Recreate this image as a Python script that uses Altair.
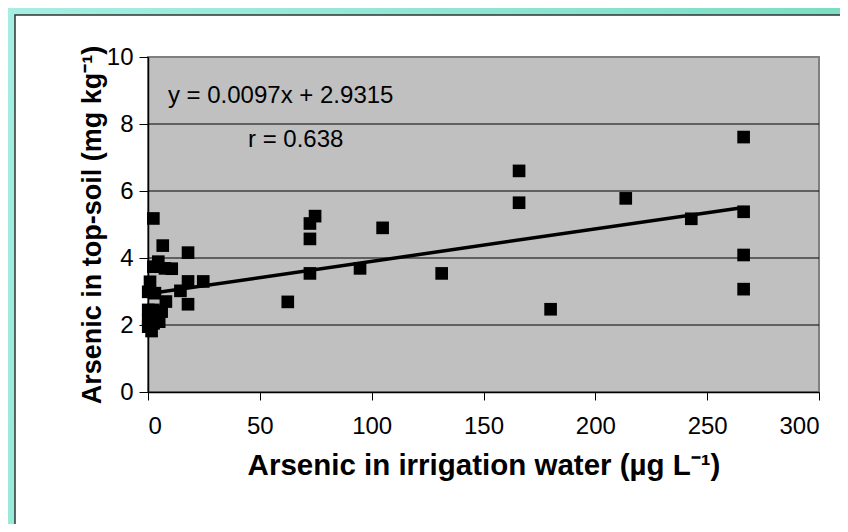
import altair as alt
import pandas as pd

# Arsenic in irrigation water (ug/L) and top-soil (mg/kg)
water = [266.3, 266.3, 266.3, 266.3, 242.9, 213.6, 180.0, 165.9, 165.9, 131.3,
         104.9, 94.8, 74.7, 72.4, 72.4, 72.4, 62.5,
         2.4, 6.6, 17.9, 4.6, 2.4, 7.6, 10.6, 17.9, 24.7, 0.9, 14.5, 0.1, 3.1,
         8.0, 17.9, 0.1, 2.4, 6.1, 0.1, 3.9, 0.1, 1.6, 2.5, 5.0]
soil = [7.61, 5.38, 4.09, 3.07, 5.17, 5.78, 2.47, 6.60, 5.65, 3.54,
        4.90, 3.69, 5.25, 5.03, 4.57, 3.54, 2.69,
        5.18, 4.37, 4.16, 3.89, 3.74, 3.69, 3.68, 3.30, 3.30, 3.29, 3.02, 2.99, 2.95,
        2.70, 2.62, 2.45, 2.45, 2.40, 2.15, 2.20, 1.95, 1.82, 2.05, 2.10]

trend_x = [0.0, 266.3]
trend_y = [2.93, 5.51]

x_ticks = [0, 50, 100, 150, 200, 250, 300]
y_ticks = [0, 2, 4, 6, 8, 10]
grid_y = [2, 4, 6, 8]

note_x = [8.9, 44.7]
note_y = [8.84, 7.52]
note_text = ["y = 0.0097x + 2.9315", "r = 0.638"]

W, H = 671, 335
FONT = "Liberation Sans"

pts = pd.DataFrame({"water": water, "soil": soil})
trend = pd.DataFrame({"water": trend_x, "soil": trend_y})
grid = pd.DataFrame({"soil": grid_y})
notes = pd.DataFrame({"water": note_x, "soil": note_y, "t": note_text})
one = pd.DataFrame({"a": [0]})

xscale = alt.Scale(domain=[0, 300], nice=False, zero=False)
yscale = alt.Scale(domain=[0, 10], nice=False)

xaxis = alt.Axis(
    values=x_ticks, title="Arsenic in irrigation water (µg L⁻¹)",
    grid=False, zindex=1, domainColor="black", domainWidth=1.5,
    tickColor="black", tickSize=8, tickWidth=1,
    labelFont=FONT, labelFontSize=24, labelColor="black", labelPadding=14,
    titleFont=FONT, titleFontSize=29.5, titleFontWeight="bold", titleColor="black",
    titleY=73, titleBaseline="middle")
yaxis = alt.Axis(
    values=y_ticks, title="Arsenic in top-soil (mg kg⁻¹)",
    grid=False, zindex=1, domainColor="black", domainWidth=1.5,
    tickColor="black", tickSize=9, tickWidth=1,
    labelFont=FONT, labelFontSize=24, labelColor="black", labelPadding=6,
    titleFont=FONT, titleFontSize=27, titleFontWeight="bold", titleColor="black",
    titleX=-56, titleY=H / 2, titleBaseline="middle", titleAngle=270)

X = alt.X("water:Q", scale=xscale, axis=xaxis)
Y = alt.Y("soil:Q", scale=yscale, axis=yaxis)

teal = alt.Chart(one).mark_rect(
    color=alt.Gradient(
        gradient="linear",
        stops=[alt.GradientStop(color="#a6eee2", offset=0),
               alt.GradientStop(color="#78dcc0", offset=1)],
        x1=0, x2=1, y1=0, y2=0.3)
).encode(x=alt.value(-140), x2=alt.value(700), y=alt.value(-49), y2=alt.value(480))

panel = alt.Chart(one).mark_rect(
    fill="white", stroke="#333333", strokeWidth=1.5
).encode(x=alt.value(-133), x2=alt.value(720), y=alt.value(-42), y2=alt.value(500))

plotbg = alt.Chart(one).mark_rect(
    fill="#c0c0c0", stroke="#808080", strokeWidth=2
).encode(x=alt.value(0), x2=alt.value(W), y=alt.value(0), y2=alt.value(H))

points = alt.Chart(pts).mark_point(
    shape="square", filled=True, color="black", size=160, opacity=1
).encode(x=X, y=Y)

gridlines = alt.Chart(grid).mark_rule(color="black", strokeWidth=1).encode(y=Y)

line = alt.Chart(trend).mark_line(color="black", strokeWidth=3.5).encode(x=X, y=Y)

text = alt.Chart(notes).mark_text(
    align="left", baseline="middle", fontSize=24, font=FONT, color="black"
).encode(x=X, y=Y, text="t:N")

chart = alt.layer(teal, panel, plotbg, gridlines, line, points, text).properties(
    width=W, height=H,
    autosize=alt.AutoSizeParams(type="none"),
    padding={"left": 140, "top": 49, "right": 21, "bottom": 132},
).configure(background="#90e4d0").configure_view(stroke=None)

chart.save("out.html", embed_options={"renderer": "svg", "actions": False})
